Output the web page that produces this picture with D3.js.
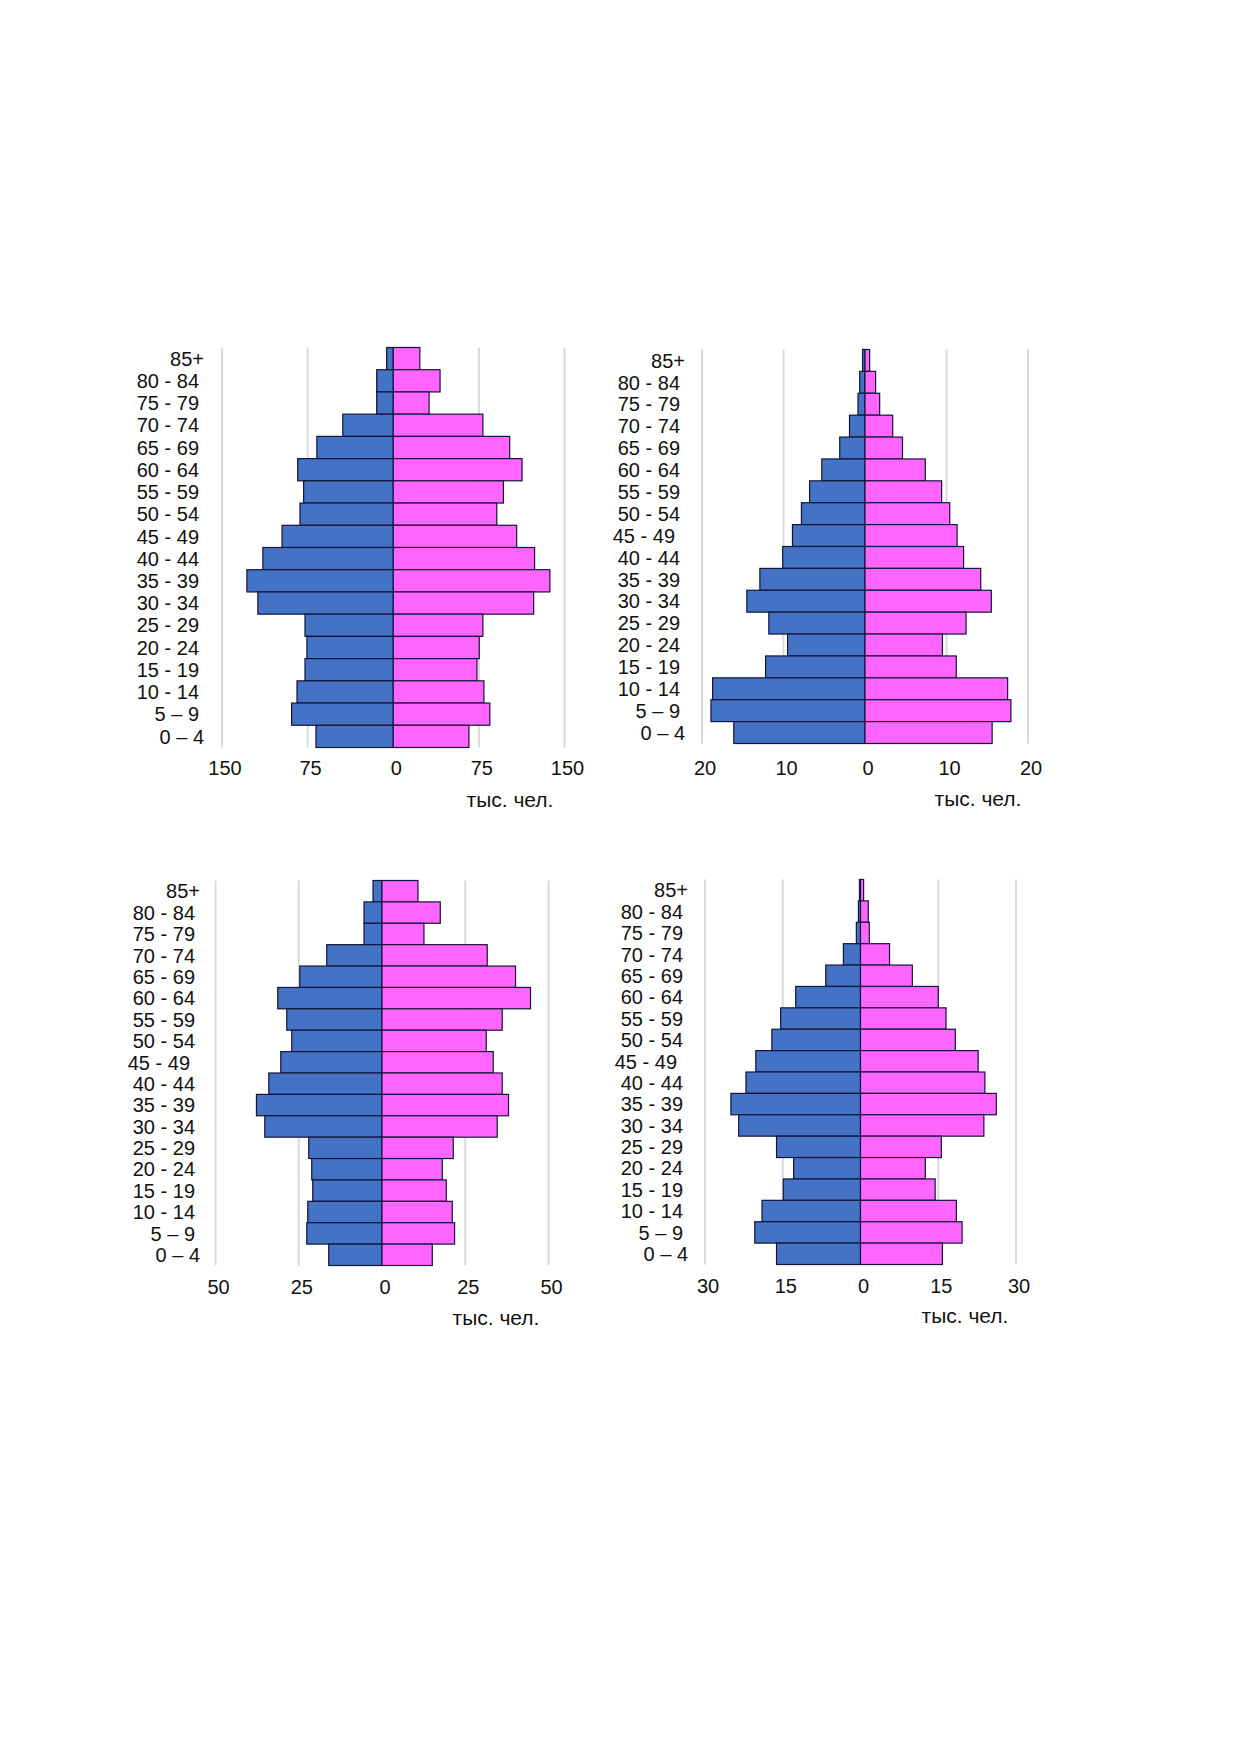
<!DOCTYPE html>
<html>
<head>
<meta charset="utf-8">
<script src="https://cdn.jsdelivr.net/npm/d3@7"></script>
<style>
	html, body { margin: 0; padding: 0; background: #fff; }
	svg { display: block; }
	text { font-family: Arial, "Liberation Sans", sans-serif; fill: #111; }
</style>
</head>
<body>
<svg id="chart" width="1240" height="1754"></svg>
<script>
var ages = ["85+", "80 - 84", "75 - 79", "70 - 74", "65 - 69", "60 - 64", "55 - 59", "50 - 54",
	"45 - 49", "40 - 44", "35 - 39", "30 - 34", "25 - 29", "20 - 24", "15 - 19", "10 - 14", "5 – 9", "0 – 4"];

// тыс. чел., from 85+ down to 0-4
var men1 = [5.8, 14.5, 14.5, 44.2, 66.9, 83.7, 78.5, 81.7, 97.4, 114.2, 128.2, 118.6, 77.3, 75.6, 77.3, 84.3, 89, 67.7];
var women1 = [23.3, 41, 31.4, 78.5, 102, 112.8, 96.5, 90.7, 108.1, 123.8, 137.2, 123, 78.5, 75.3, 73.3, 79.4, 84.6, 66.3];
var ticks1 = [-150, -75, 0, 75, 150];

var men2 = [0.3, 0.65, 0.86, 1.9, 3.1, 5.3, 6.8, 7.8, 8.9, 10.1, 12.9, 14.5, 11.8, 9.5, 12.2, 18.7, 18.9, 16.1];
var women2 = [0.57, 1.3, 1.8, 3.4, 4.6, 7.4, 9.4, 10.4, 11.3, 12.1, 14.2, 15.5, 12.4, 9.5, 11.2, 17.5, 17.9, 15.6];
var ticks2 = [-20, -10, 0, 10, 20];

var men3 = [2.7, 5.4, 5.4, 16.6, 24.7, 31.3, 28.6, 27.1, 30.4, 34.0, 37.7, 35.2, 22.0, 21.1, 20.8, 22.3, 22.6, 16.0];
var women3 = [10.8, 17.5, 12.6, 31.6, 40.1, 44.6, 36.1, 31.3, 33.4, 36.1, 38, 34.6, 21.4, 18.1, 19.3, 21.1, 21.8, 15.1];
var ticks3 = [-50, -25, 0, 25, 50];

var men4 = [0.2, 0.4, 0.8, 3.3, 6.7, 12.5, 15.4, 17.1, 20.2, 22.1, 25, 23.5, 16.2, 12.9, 14.9, 19, 20.4, 16.2];
var women4 = [0.6, 1.5, 1.7, 5.6, 10, 15, 16.5, 18.3, 22.7, 24, 26.2, 23.8, 15.6, 12.5, 14.4, 18.5, 19.6, 15.8];
var ticks4 = [-30, -15, 0, 15, 30];

var unitLabel = "тыс. чел.";

var colors = {men: "#4472c4", women: "#ff66ff", stroke: "#14143a", grid: "#d9d9d9"};

var panels = [
	{men: men1, women: women1, ticks: ticks1, x0: 222, x1: 564.5, top: 347.5, bottom: 747.5, tickY: 775, labelX: 199, unitX: 510, unitY: 807, shift45: 0},
	{men: men2, women: women2, ticks: ticks2, x0: 702, x1: 1028, top: 349.5, bottom: 743.5, tickY: 775, labelX: 680, unitX: 978, unitY: 806, shift45: -5},
	{men: men3, women: women3, ticks: ticks3, x0: 215.5, x1: 548.5, top: 880.5, bottom: 1265.5, tickY: 1294, labelX: 195, unitX: 496, unitY: 1325, shift45: -5},
	{men: men4, women: women4, ticks: ticks4, x0: 705, x1: 1016, top: 879.5, bottom: 1264.5, tickY: 1293, labelX: 683, unitX: 965, unitY: 1323, shift45: -6}
];

var svg = d3.select("#chart");

function label_nudge(age, p) {
	if (age === "85+" || age === "0 – 4") return 5;
	if (age === "45 - 49") return p.shift45;
	return 0;
}

function draw_panel(p) {
	var max = d3.max(p.ticks);
	var x = d3.scaleLinear().domain([-max, max]).range([p.x0, p.x1]);
	var y = d3.scaleBand().domain(ages).range([p.top, p.bottom]).padding(0);
	var g = svg.append("g");

	g.selectAll(".grid")
	  .data(p.ticks.filter(function(t) { return t !== 0; }))
	  .enter().append("line")
	  .attr("class", "grid")
	  .attr("x1", function(t) { return x(t); })
	  .attr("x2", function(t) { return x(t); })
	  .attr("y1", p.top)
	  .attr("y2", p.bottom)
	  .attr("stroke", colors.grid)
	  .attr("stroke-width", 2);

	g.selectAll(".men")
	  .data(p.men)
	  .enter().append("rect")
	  .attr("class", "men")
	  .attr("x", function(d) { return x(-d); })
	  .attr("y", function(d, i) { return y(ages[i]); })
	  .attr("width", function(d) { return x(0) - x(-d); })
	  .attr("height", y.bandwidth())
	  .attr("fill", colors.men)
	  .attr("stroke", colors.stroke)
	  .attr("stroke-width", 1.2);

	g.selectAll(".women")
	  .data(p.women)
	  .enter().append("rect")
	  .attr("class", "women")
	  .attr("x", x(0))
	  .attr("y", function(d, i) { return y(ages[i]); })
	  .attr("width", function(d) { return x(d) - x(0); })
	  .attr("height", y.bandwidth())
	  .attr("fill", colors.women)
	  .attr("stroke", colors.stroke)
	  .attr("stroke-width", 1.2);

	g.selectAll(".age")
	  .data(ages)
	  .enter().append("text")
	  .attr("class", "age")
	  .attr("x", function(d) { return p.labelX + label_nudge(d, p); })
	  .attr("y", function(d) { return y(d) + y.bandwidth() / 2; })
	  .attr("dy", "0.36em")
	  .attr("text-anchor", "end")
	  .style("font-size", "20px")
	  .text(function(d) { return d; });

	g.selectAll(".tick")
	  .data(p.ticks)
	  .enter().append("text")
	  .attr("class", "tick")
	  .attr("x", function(t) { return x(t) + 3; })
	  .attr("y", p.tickY)
	  .attr("text-anchor", "middle")
	  .style("font-size", "20px")
	  .text(function(t) { return Math.abs(t); });

	g.append("text")
	  .attr("x", p.unitX)
	  .attr("y", p.unitY)
	  .attr("text-anchor", "middle")
	  .style("font-size", "21px")
	  .text(unitLabel);
}

panels.forEach(draw_panel);
</script>
</body>
</html>
